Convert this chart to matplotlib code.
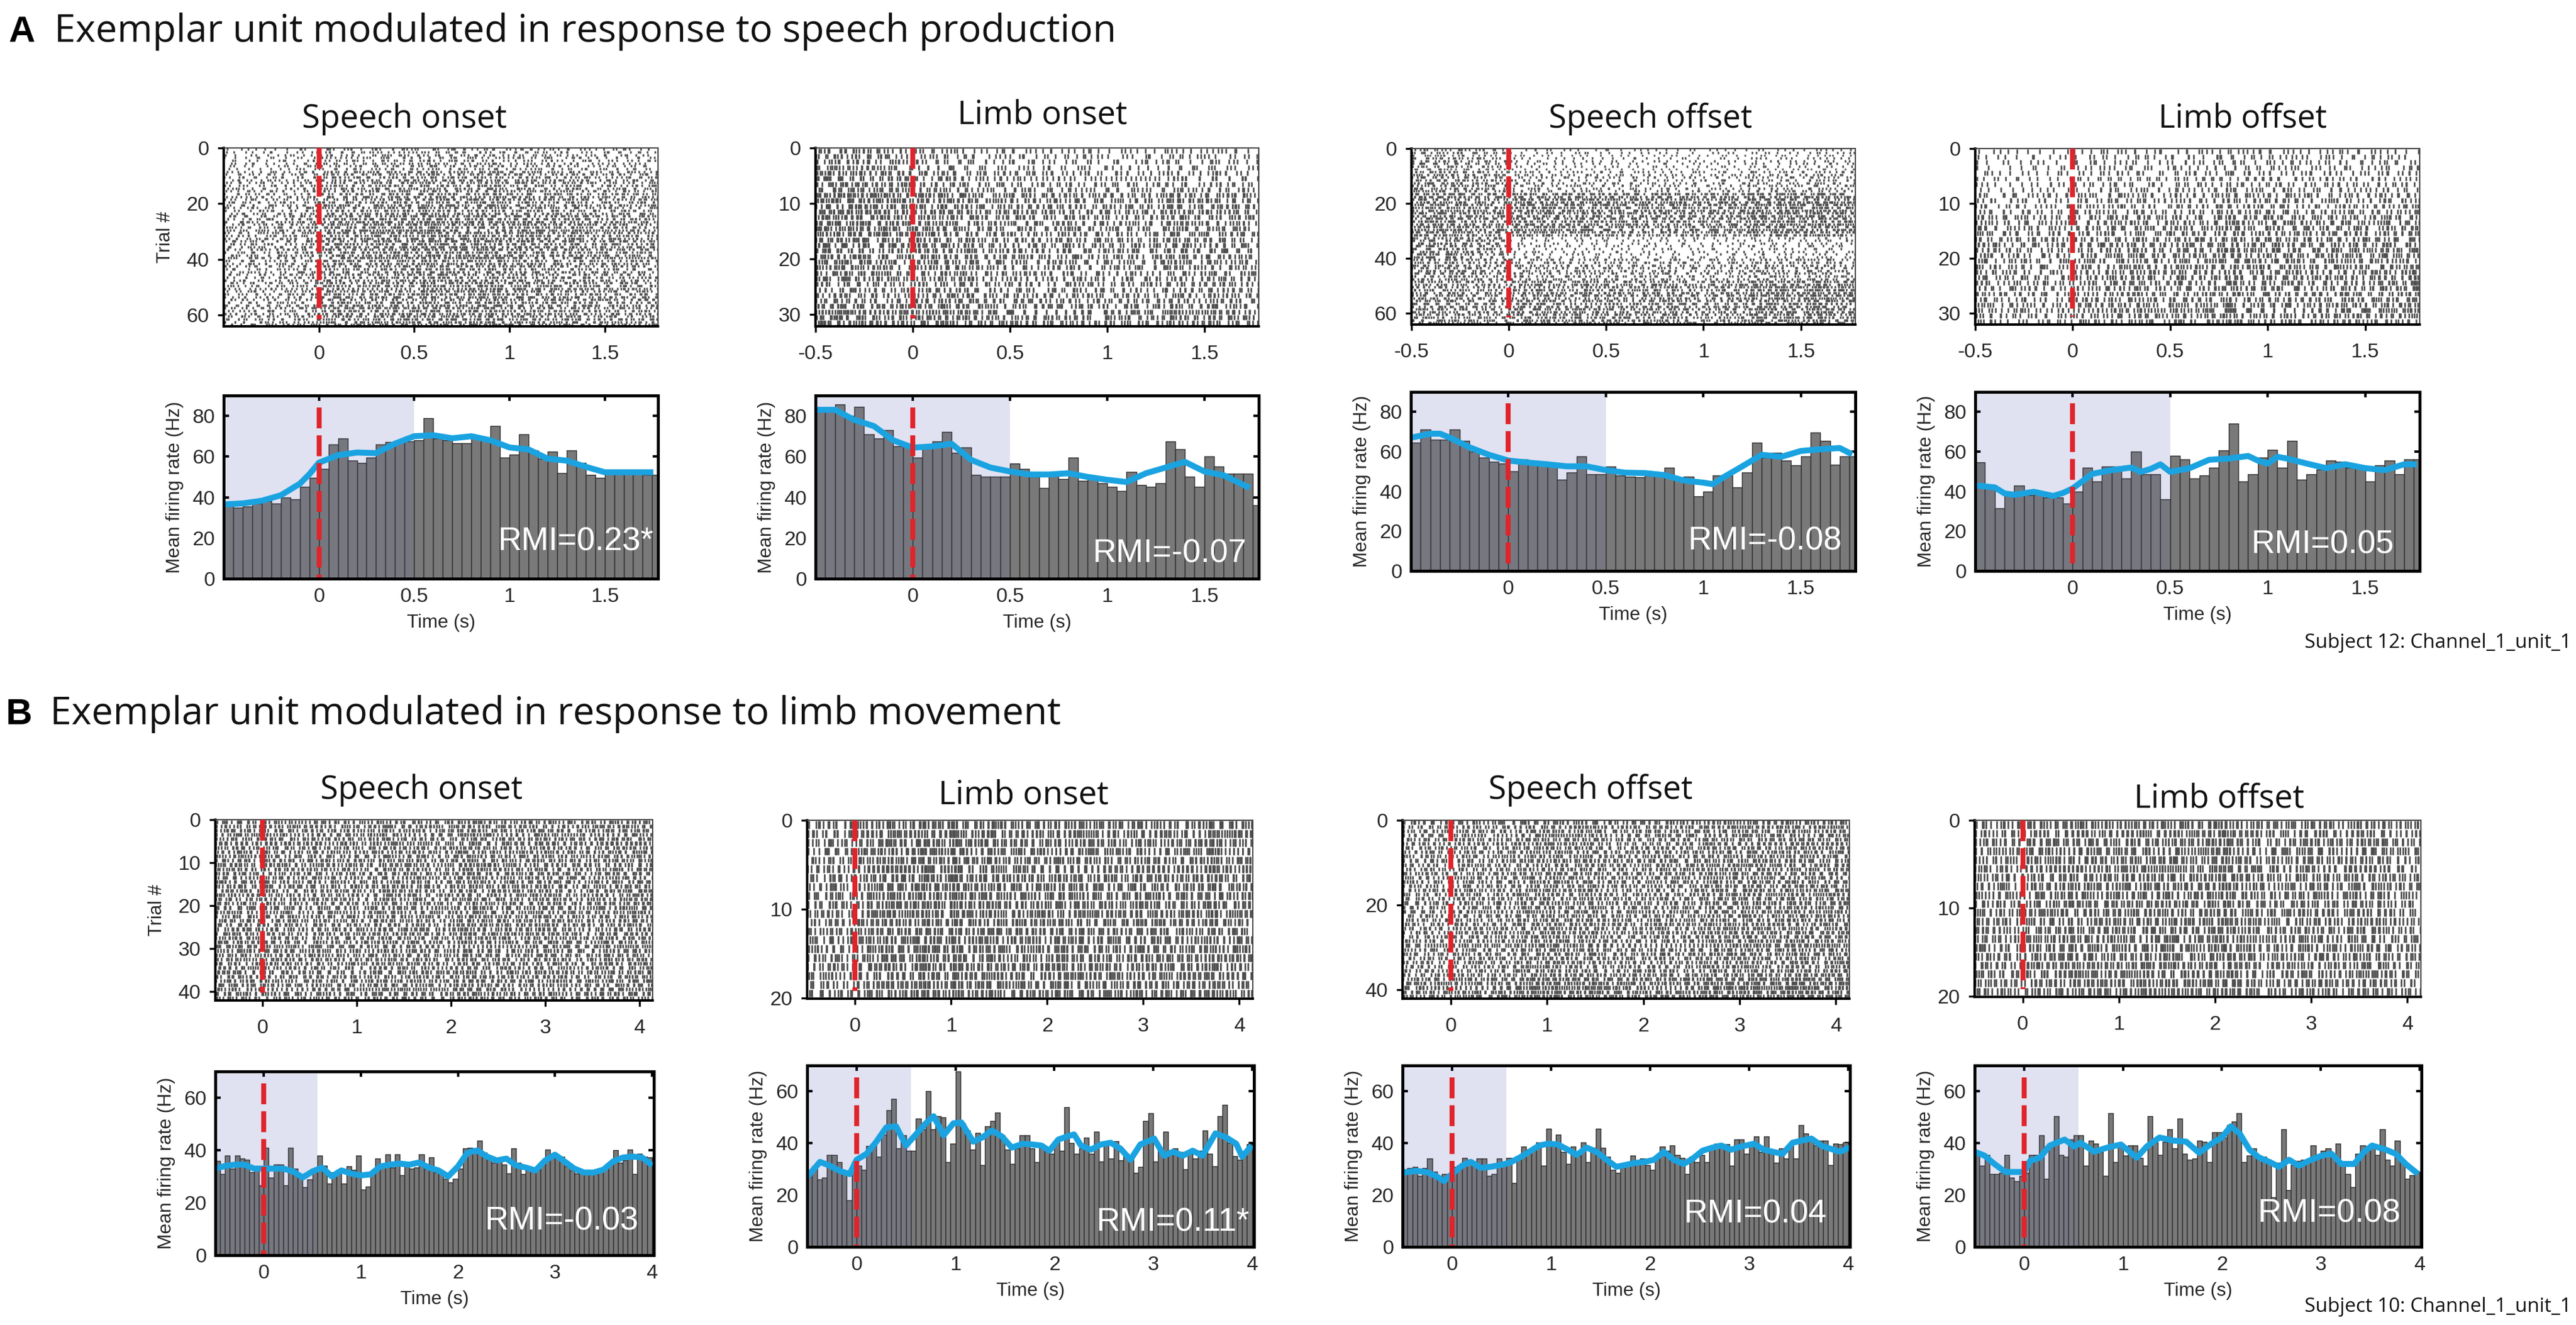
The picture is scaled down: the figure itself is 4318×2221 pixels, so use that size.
import numpy as np
import matplotlib
matplotlib.use("Agg")
import matplotlib.pyplot as plt
from matplotlib.collections import LineCollection

W, H, DPI = 4318, 2221, 300

# ---------------- text ----------------
heading_a = "Exemplar unit modulated in response to speech production"
heading_b = "Exemplar unit modulated in response to limb movement"
col_titles = ["Speech onset", "Limb onset", "Speech offset", "Limb offset"]
rmi_a = ["RMI=0.23*", "RMI=-0.07", "RMI=-0.08", "RMI=0.05"]
rmi_b = ["RMI=-0.03", "RMI=0.11*", "RMI=0.04", "RMI=0.08"]
subject_a = "Subject 12: Channel_1_unit_1"
subject_b = "Subject 10: Channel_1_unit_1"

# ---------------- data ----------------
bin_w = 0.05          # PSTH bins start at -0.5 s
n_trials_a = [64, 32, 64, 32]
n_trials_b = [42, 20, 42, 20]

# panel A, mean firing rate per bin (Hz)
psth_a1 = [36, 35, 35.5, 37, 38, 37, 40, 39, 45, 49.5,
           54, 66, 69, 58, 57, 59.5, 66, 67, 67.5, 67.5,
           68, 79, 69, 68, 66.5, 66.5, 70, 69, 75, 59.5,
           61, 71, 63, 59, 62.5, 52, 63, 57, 51, 49.5,
           52, 52, 52, 53, 51, 51]
psth_a2 = [82, 82, 85.5, 80, 84.5, 71, 69, 73, 65, 66,
           59.5, 65, 67.5, 72, 62, 64.5, 51, 50, 50, 50,
           56.5, 54, 50, 44.5, 51, 49, 59.5, 48, 49, 47,
           45, 43, 52.5, 46, 45, 47, 67.5, 63.5, 50, 45,
           60, 55, 51.5, 51.5, 51.5, 36]
psth_a3 = [64.5, 71, 66, 66, 71, 65.5, 60, 57, 55, 54,
           50, 56, 54, 55, 53, 46, 49.5, 57.5, 48.5, 48.5,
           52.5, 48, 47.5, 47, 48, 48, 52, 46, 47.5, 37.5,
           40, 48, 48, 42, 49.5, 64.5, 57, 59.5, 55.5, 53,
           57.5, 69.5, 65.5, 53.5, 57.5, 57.5]
psth_a4 = [54.5, 42, 31.5, 38, 43, 38, 38.5, 37, 37, 34,
           40, 52, 45, 52.5, 52.5, 46.5, 60, 48.5, 48.5, 36,
           58, 56, 46.5, 48, 52, 60.5, 74, 45, 48.5, 57,
           61, 52, 65.5, 46, 48.5, 51, 55.5, 55, 52, 51.5,
           45, 53, 55.5, 48.5, 56, 56]

# panel A, smoothed rate (blue)
line_a1_t = [-0.5, -0.4, -0.3, -0.2, -0.1, -0.05, 0, 0.1, 0.2, 0.3, 0.4, 0.5,
             0.6, 0.7, 0.8, 0.9, 1.0, 1.1, 1.2, 1.3, 1.4, 1.5, 1.6, 1.74]
line_a1_hz = [36.5, 37, 38.3, 41, 46.7, 51.4, 57, 60.7, 62, 61.7, 66.4, 70,
              70.5, 69, 70, 68, 64.5, 63.5, 59, 58, 55, 52.3, 52.3, 52.3]
line_a2_t = [-0.5, -0.4, -0.3, -0.2, -0.1, 0, 0.1, 0.2, 0.3, 0.4, 0.5, 0.6,
             0.7, 0.8, 0.9, 1.0, 1.1, 1.2, 1.3, 1.4, 1.5, 1.6, 1.72]
line_a2_hz = [83, 83, 78, 75, 68, 64.4, 65, 66.3, 58.4, 54.6, 52.7, 51.2,
              51.2, 51.8, 50, 48.6, 47.5, 51.8, 54.6, 57.4, 52.7, 50.8, 45.2]
line_a3_t = [-0.5, -0.4, -0.35, -0.3, -0.2, -0.1, 0, 0.1, 0.2, 0.3, 0.4, 0.5, 0.6,
             0.7, 0.8, 0.9, 1.0, 1.05, 1.1, 1.2, 1.3, 1.4, 1.5, 1.6, 1.7, 1.75]
line_a3_hz = [67, 69, 69, 67, 62.2, 58.4, 55.5, 54.5, 53.6, 52.6, 52.6, 50.7, 49.4,
              49.2, 48.2, 45.5, 44.4, 43.6, 46.9, 52.6, 58.4, 57.4, 60.3, 61.2, 61.8, 59.3]
line_a4_t = [-0.5, -0.4, -0.35, -0.3, -0.2, -0.1, -0.05, 0, 0.1, 0.2, 0.3, 0.35,
             0.4, 0.45, 0.5, 0.6, 0.7, 0.8, 0.9, 0.95, 1.0, 1.05, 1.1, 1.2, 1.3,
             1.4, 1.5, 1.6, 1.7, 1.75]
line_a4_hz = [43, 42, 39, 38.3, 39.8, 37.7, 39.2, 41.5, 48.8, 50.7, 52, 49.8,
              51.3, 53.6, 49.8, 51.7, 55.9, 56.5, 57.8, 55.5, 54, 57.4, 56.5, 54, 51.7,
              53.6, 51.7, 50.7, 53.6, 53.6]

# panel B, mean firing rate per bin (Hz)
psth_b1 = [36, 31, 38, 33, 38, 36.8, 36.4, 31.5, 32.6, 26.6,
           41, 29.6, 34.5, 34.5, 26.6, 41, 33, 30.8, 25.8, 28.9,
           33, 38, 34.2, 27.3, 31.5, 32.6, 27.3, 33.8, 32.6, 38,
           25, 26.2, 31.5, 36.8, 34.5, 38.3, 33.5, 38.5, 30.4, 34.5,
           33, 33.4, 38.3, 33, 37.2, 31.5, 31.5, 29.2, 27.7, 29.2,
           33, 40.6, 41, 40.6, 43.7, 39, 36.8, 35.3, 36.8, 34.5,
           31.1, 40.6, 35.3, 30.8, 32.6, 32.6, 32.6, 35.3, 40.2, 38,
           38, 37.6, 33.8, 32.3, 31.1, 31.5, 31.1, 31.1, 30.8, 33,
           33, 34.5, 39.9, 35.3, 36.1, 40.2, 30.8, 38.7, 37.6, 37.2]
psth_b2 = [27, 31, 26, 26.6, 35.5, 35.5, 32.8, 28.5, 18, 32.8,
           31.3, 29.7, 39, 39.5, 34.8, 43.4, 52.7, 57, 37.9, 43,
           37.1, 37.1, 49.6, 45.3, 60, 45.3, 50.4, 50, 32.8, 39.8,
           67.8, 47.7, 45, 37.5, 44, 31.6, 46.5, 48.6, 51.7, 43,
           37.5, 32, 38, 43, 43, 38, 32.8, 38.3, 37, 36,
           40.5, 37, 53.9, 40, 36, 38, 42.2, 36, 44.4, 33,
           40, 34, 40.8, 33.5, 36, 34.5, 28.5, 30.8, 48.6, 51.5,
           33, 37.5, 44.4, 36, 38, 36.5, 30, 36, 34, 37,
           45, 36, 31, 50.4, 54.7, 40, 35, 33.6, 36, 39.5]
psth_b3 = [30, 30.5, 30.9, 27.3, 30.5, 34, 28.9, 27.3, 28, 27.3,
           30.9, 31.3, 34.4, 33.6, 32.4, 34, 34, 27.3, 28.1, 34,
           32.8, 34.4, 24.6, 34.4, 38.7, 37.5, 38.3, 40.2, 31.3, 45.7,
           40.2, 43.4, 36.7, 32, 38.7, 35.2, 40.2, 32.8, 38.3, 45.7,
           38.3, 34.8, 29.7, 28.5, 31.3, 32.4, 35.2, 33.2, 34, 31.5,
           29.7, 34.4, 38.7, 37.1, 39.1, 35.5, 34.4, 28.1, 34.8, 32.8,
           35.5, 32.8, 38.7, 39.8, 38.7, 39.5, 31.3, 41.4, 41.4, 35.9,
           40.2, 42.6, 36.7, 42.6, 37.5, 32.4, 37.9, 34, 39.8, 34,
           46.9, 43.8, 41.4, 39.1, 41, 41, 31.6, 39.8, 39.5, 40.2]
psth_b4 = [36.7, 31.3, 35.5, 28.1, 28.1, 28.5, 35.5, 26.6, 25.4, 27.3,
           28.5, 35.5, 35.5, 43, 26.2, 39.8, 50.4, 35.5, 34.8, 41.4,
           43, 43, 31.3, 41, 39.8, 36.7, 27.3, 51.6, 32.8, 39.8,
           35.2, 39.1, 39.1, 34.4, 31.3, 50.4, 40.2, 35.5, 40.6, 45.3,
           37.9, 49.6, 35.9, 33.6, 34, 41, 40.6, 32.8, 44.1, 44.1,
           42.2, 46.9, 48.4, 51.6, 32.8, 35.2, 37.9, 35.2, 34.8, 33.6,
           19.1, 32.4, 45.3, 21.9, 31.6, 33.2, 33.6, 32.8, 39.1, 34.4,
           37.1, 37.9, 35.5, 39.8, 32.8, 28.1, 23, 35.9, 39.1, 38.3,
           38.3, 35.5, 45.3, 33.6, 31.3, 41, 32.8, 26.2, 27.7, 29]

# panel B, smoothed rate (blue)
line_b1_t = [-0.5, -0.4, -0.3, -0.2, -0.1, 0.0, 0.1, 0.2, 0.3, 0.4, 0.5, 0.6,
             0.7, 0.8, 0.9, 1.0, 1.1, 1.2, 1.3, 1.4, 1.5, 1.6, 1.7, 1.8, 1.9,
             2.0, 2.1, 2.2, 2.3, 2.4, 2.5, 2.6, 2.7, 2.8, 2.9, 3.0, 3.1, 3.2,
             3.3, 3.4, 3.5, 3.6, 3.7, 3.8, 3.9, 3.98]
line_b1_hz = [33, 34, 34.5, 34.5, 33, 33, 33, 33, 31.9, 29.6, 31.9, 33.4,
              30, 32.3, 31.1, 30.4, 30.8, 33.8, 34.5, 34.9, 34.5, 35.3, 33.4, 32.3, 30,
              33.8, 39.1, 39.9, 37.6, 36.1, 36.8, 34.2, 33.4, 32.3, 36.1, 38.3, 35.7, 33,
              31.5, 31.5, 32.6, 35.7, 37.2, 37.6, 37.2, 34.9]
line_b2_t = [-0.5, -0.37, -0.27, -0.17, -0.07, 0.0, 0.1, 0.2, 0.3, 0.4, 0.5, 0.6,
             0.7, 0.78, 0.88, 0.98, 1.06, 1.18, 1.27, 1.37, 1.47, 1.57, 1.68, 1.78,
             1.87, 1.95, 2.04, 2.13, 2.2, 2.27, 2.37, 2.47, 2.57, 2.67, 2.77, 2.87,
             3.01, 3.11, 3.2, 3.3, 3.4, 3.5, 3.63, 3.74, 3.84, 3.9, 3.98]
line_b2_hz = [27, 32.8, 31.3, 29.3, 28.1, 33.6, 35.9, 40.6, 46.1, 46.5, 39.1, 43.4,
              47.7, 50.4, 43, 47.7, 48, 40.6, 42.2, 44.9, 42.6, 38.3, 39.8, 39.5,
              39.1, 37.1, 41.4, 42.6, 43.4, 39.1, 37.5, 39.5, 40.2, 37.9, 33.6, 39.5,
              41.8, 35.2, 36.7, 35.2, 37.1, 35.2, 43.8, 42.2, 39.8, 34.8, 38.3]
line_b3_t = [-0.5, -0.45, -0.36, -0.26, -0.16, -0.08, 0.0, 0.1, 0.19, 0.29, 0.39,
             0.49, 0.58, 0.68, 0.78, 0.88, 0.97, 1.07, 1.17, 1.26, 1.36, 1.46, 1.56,
             1.66, 1.75, 1.85, 1.95, 2.04, 2.14, 2.24, 2.34, 2.43, 2.53, 2.63, 2.72,
             2.82, 2.92, 3.05, 3.15, 3.24, 3.34, 3.44, 3.53, 3.63, 3.73, 3.82, 3.92, 3.99]
line_b3_hz = [28.5, 28.9, 29.3, 28.9, 27.3, 25.4, 28.1, 31.3, 32.8, 30.5, 30.9,
              31.6, 32.4, 34.4, 36.7, 39.1, 39.8, 39.5, 37.5, 35.5, 38.3, 36.7, 33.6,
              30.9, 31.6, 32.4, 32.8, 33.6, 36.7, 33.6, 32, 34, 37.1, 38.3, 39.1,
              37.5, 38.7, 39.8, 37.5, 36.7, 35.9, 40.2, 41, 41.8, 39.1, 37.9, 36.7, 37.9]
line_b4_t = [-0.5, -0.4, -0.3, -0.19, -0.09, 0.0, 0.06, 0.16, 0.26, 0.41, 0.51,
             0.57, 0.71, 0.84, 0.98, 1.14, 1.24, 1.37, 1.51, 1.64, 1.77, 1.91, 2.0,
             2.09, 2.18, 2.28, 2.38, 2.48, 2.58, 2.68, 2.78, 2.88, 3.01, 3.11, 3.21,
             3.34, 3.44, 3.52, 3.66, 3.76, 3.86, 3.96]
line_b4_hz = [36.7, 35.2, 32, 28.9, 28.9, 28.9, 33.2, 34.4, 39.1, 41.4, 38.7,
              40.2, 36.7, 38.3, 39.5, 34.4, 38.7, 42.2, 41, 40.6, 36.3, 40.2, 42.2,
              46.5, 43.8, 37.5, 34.4, 32.8, 30.9, 33.6, 31.3, 33.2, 35.2, 35.9, 32,
              32, 36.7, 39.1, 37.5, 35.9, 32, 28.9]

# raster density by blocks of trials (top to bottom), before / after event
rows_pre_a1 = [0.6, 0.9, 1.0, 1.2, 1.2, 1.0, 1.0, 1.1]
rows_post_a1 = [0.6, 0.9, 1.0, 1.2, 1.2, 1.0, 1.1, 1.1]
rows_pre_a2 = [0.8, 1.0, 1.3, 1.2, 1.1, 1.0, 0.7, 1.1]
rows_post_a2 = [0.6, 0.8, 1.2, 1.1, 1.1, 1.0, 1.0, 1.2]
rows_pre_a3 = [0.8, 1.0, 1.3, 1.3, 1.1, 1.0, 1.0, 1.0]
rows_post_a3 = [0.4, 0.6, 1.5, 1.4, 0.4, 0.8, 1.3, 1.3]
rows_pre_a4 = [0.5, 0.6, 0.9, 1.2, 1.3, 1.2, 1.2, 1.1]
rows_post_a4 = [0.6, 0.7, 0.9, 1.1, 1.2, 1.2, 1.2, 1.2]
rows_b = [1, 1, 1, 1, 1, 1, 1, 1]
rows_b3 = [1, 1, 1, 1, 1, 1, 1, 1.3]

# ---------------- layout (pixels: left, right, top, bottom) ----------------
raster_a_px = [(375, 1103, 248, 547), (1367, 2110, 248, 547),
               (2366, 3110, 249, 544), (3311, 4056, 249, 544)]
psth_a_px = [(375, 1103, 663, 970), (1367, 2110, 663, 970),
             (2365, 3110, 657, 957), (3311, 4056, 657, 957)]
raster_b_px = [(361, 1094, 1374, 1677), (1353, 2100, 1375, 1674),
               (2351, 3100, 1375, 1674), (3310, 4058, 1375, 1671)]
psth_b_px = [(361, 1096, 1796, 2104), (1353, 2102, 1786, 2090),
             (2351, 3101, 1786, 2090), (3310, 4059, 1786, 2090)]
title_a_px = [(506, 849, 214), (1605, 1889, 207), (2596, 2937, 214), (3618, 3900, 214)]
title_b_px = [(537, 877, 1339), (1573, 1858, 1347), (2495, 2838, 1339), (3577, 3863, 1354)]
rmi_a_pos = [(0.99, 0.2), (0.972, 0.135), (0.97, 0.166), (0.942, 0.145)]
rmi_b_pos = [(0.965, 0.183), (0.99, 0.133), (0.948, 0.18), (0.953, 0.183)]

BAR = "#797979"
EDGE = "#2e2e2e"
SHADE_UNDER = "#ececf5"
SHADE_TINT = "#6470c8"
BLUE = "#1aa3e0"
RED = "#e0242b"
SPIKE = "#4c4c4c"
TXT = "#262626"
TICK_FONT = ["Liberation Sans", "DejaVu Sans"]
TITLE_FONT = ["Open Sans", "DejaVu Sans"]

fig = plt.figure(figsize=(W / DPI, H / DPI), dpi=DPI)
renderer = fig.canvas.get_renderer()


def box(p):
    l, r, t, b = p
    return [l / W, 1 - b / H, (r - l) / W, (b - t) / H]


def fit_text(s, left, right, base, **kw):
    t = fig.text(left / W, 1 - base / H, s, va="baseline", ha="left", **kw)
    w = t.get_window_extent(renderer).width
    t.set_fontsize(t.get_fontsize() * (right - left) / w)
    return t


def spike_segments(rates, n, w_pre, w_post, t_end):
    # spike ticks laid out from the bar rates; positions inside a bin follow a
    # quadratic Weyl sequence per trial row, so rows do not line up
    wpre = np.asarray(w_pre, float) / np.mean(w_pre)
    wpost = np.asarray(w_post, float) / np.mean(w_post)
    n_bins = int(round((t_end + 0.5) / bin_w))
    segs = []
    for k in range(n):
        blk = int(k * len(wpre) / n)
        a = (k * 0.7548776662 + 0.31) % 1.0
        c = (np.sqrt(3.0 + k) * 0.6180339887) % 1.0
        acc = (k * 0.5698402910) % 1.0
        j = 0
        y = k + 0.5
        for b in range(n_bins):
            t0 = -0.5 + b * bin_w
            w = wpre[blk] if t0 < 0 else wpost[blk]
            acc += rates[min(b, len(rates) - 1)] * bin_w * w
            m = int(acc)
            acc -= m
            for _ in range(m):
                j += 1
                pos = (j * a + j * j * c) % 1.0
                t = t0 + bin_w * pos
                segs.append([(t, y - 0.43), (t, y + 0.43)])
    return segs


def labels(v):
    return ["%g" % x for x in v]


def draw_raster(p, rates, n, w_pre, w_post, xlim, xticks, yticks, ylabel):
    ax = fig.add_axes(box(p))
    ax.add_collection(LineCollection(spike_segments(rates, n, w_pre, w_post, xlim[1]),
                                     colors=SPIKE, linewidths=0.65))
    ax.set_xlim(*xlim)
    ax.set_ylim(n + 0.1, 0)
    ax.plot([0, 0], [0, n * 0.96], color=RED, lw=2.0, dashes=(4.2, 1.4), zorder=5)
    ax.set_xticks(xticks)
    ax.set_xticklabels(labels(xticks))
    ax.set_yticks(yticks)
    ax.set_yticklabels(labels(yticks))
    ax.tick_params(direction="out", length=2.4, width=0.8, labelsize=8.2,
                   colors="black", labelcolor=TXT)
    ax.tick_params(axis="x", pad=5)
    for lab in ax.get_xticklabels() + ax.get_yticklabels():
        lab.set_family(TICK_FONT)
    for s in ("left", "bottom"):
        ax.spines[s].set_linewidth(1.0)
    for s in ("top", "right"):
        ax.spines[s].set_linewidth(0.5)
        ax.spines[s].set_color("#444444")
    if ylabel:
        ax.set_ylabel("Trial #", family=TICK_FONT, fontsize=7.6, color=TXT, va="center")
        ax.yaxis.set_label_coords(-98 / (p[1] - p[0]), 0.5)
    return ax


def draw_psth(p, rates, lt, lhz, xlim, ylim, xticks, yticks, shade_end, rmi, rmi_pos):
    ax = fig.add_axes(box(p))
    edges = -0.5 + bin_w * np.arange(len(rates))
    ax.axvspan(xlim[0], shade_end, color=SHADE_UNDER, lw=0, zorder=1)
    ax.bar(edges, rates, width=bin_w, align="edge", color=BAR, edgecolor=EDGE,
           linewidth=0.35, zorder=2)
    ax.axvspan(xlim[0], shade_end, color=SHADE_TINT, alpha=0.08, lw=0, zorder=3)
    ax.plot(lt, lhz, color=BLUE, lw=2.4, zorder=4, solid_joinstyle="round")
    ax.plot([0, 0], [ylim * 0.935, 0], color=RED, lw=2.0, dashes=(4.2, 1.4), zorder=5)
    ax.text(rmi_pos[0], rmi_pos[1], rmi, transform=ax.transAxes, ha="right", va="center",
            color="white", fontsize=13.2, family=TICK_FONT, zorder=6)
    ax.set_xlim(*xlim)
    ax.set_ylim(0, ylim)
    ax.set_xticks(xticks)
    ax.set_xticklabels(labels(xticks))
    ax.set_yticks(yticks)
    ax.set_yticklabels(labels(yticks))
    ax.tick_params(direction="in", length=2.2, width=1.0, top=True, right=True,
                   labelsize=8.2, labelcolor=TXT)
    for lab in ax.get_xticklabels() + ax.get_yticklabels():
        lab.set_family(TICK_FONT)
    for s in ax.spines.values():
        s.set_linewidth(1.2)
        s.set_zorder(7)
    ax.set_ylabel("Mean firing rate (Hz)", family=TICK_FONT, fontsize=7.6, color=TXT,
                  va="center")
    ax.yaxis.set_label_coords(-82 / (p[1] - p[0]), 0.5)
    ax.set_xlabel("Time (s)", family=TICK_FONT, fontsize=7.6, color=TXT, va="center")
    ax.xaxis.set_label_coords(0.5, -74 / (p[3] - p[2]))
    return ax


psth_a = [psth_a1, psth_a2, psth_a3, psth_a4]
lines_a = [(line_a1_t, line_a1_hz), (line_a2_t, line_a2_hz),
           (line_a3_t, line_a3_hz), (line_a4_t, line_a4_hz)]
rows_a = [(rows_pre_a1, rows_post_a1), (rows_pre_a2, rows_post_a2),
          (rows_pre_a3, rows_post_a3), (rows_pre_a4, rows_post_a4)]
yt_a = [[0, 20, 40, 60], [0, 10, 20, 30], [0, 20, 40, 60], [0, 10, 20, 30]]

psth_b = [psth_b1, psth_b2, psth_b3, psth_b4]
lines_b = [(line_b1_t, line_b1_hz), (line_b2_t, line_b2_hz),
           (line_b3_t, line_b3_hz), (line_b4_t, line_b4_hz)]
rows_bb = [(rows_b, rows_b), (rows_b, rows_b), (rows_b3, rows_b3), (rows_b, rows_b)]
yt_b = [[0, 10, 20, 30, 40], [0, 10, 20], [0, 20, 40], [0, 10, 20]]

for i in range(4):
    xt = [0, 0.5, 1, 1.5] if i == 0 else [-0.5, 0, 0.5, 1, 1.5]
    draw_raster(raster_a_px[i], psth_a[i], n_trials_a[i], rows_a[i][0], rows_a[i][1],
                (-0.5, 1.78), xt, yt_a[i], i == 0)
    draw_psth(psth_a_px[i], psth_a[i], lines_a[i][0], lines_a[i][1], (-0.5, 1.78), 90,
              [0, 0.5, 1, 1.5], [0, 20, 40, 60, 80], 0.5, rmi_a[i], rmi_a_pos[i])
    draw_raster(raster_b_px[i], psth_b[i], n_trials_b[i], rows_bb[i][0], rows_bb[i][1],
                (-0.5, 4.14), [0, 1, 2, 3, 4], yt_b[i], i == 0)
    draw_psth(psth_b_px[i], psth_b[i], lines_b[i][0], lines_b[i][1], (-0.5, 4.02), 70,
              [0, 1, 2, 3, 4], [0, 20, 40, 60], 0.55, rmi_b[i], rmi_b_pos[i])
    l, r, b = title_a_px[i]
    fit_text(col_titles[i], l, r, b, family=TITLE_FONT, fontsize=12, color="#111111")
    l, r, b = title_b_px[i]
    fit_text(col_titles[i], l, r, b, family=TITLE_FONT, fontsize=12, color="#111111")

# panel headings
fig.text(14 / W, 1 - 70 / H, "A", family=TICK_FONT, weight="bold", fontsize=14.7,
         va="baseline", color="black")
fit_text(heading_a, 91, 1868, 70, family=TITLE_FONT, fontsize=14, color="#111111")
fig.text(10 / W, 1 - 1214 / H, "B", family=TICK_FONT, weight="bold", fontsize=14.7,
         va="baseline", color="black")
fit_text(heading_b, 84, 1777, 1214, family=TITLE_FONT, fontsize=14, color="#111111")
fit_text(subject_a, 3863, 4309, 1086, family=TITLE_FONT, fontsize=7.5, color="#111111")
fit_text(subject_b, 3863, 4309, 2199, family=TITLE_FONT, fontsize=7.5, color="#111111")

fig.savefig("out.png", dpi=DPI, facecolor="white")
